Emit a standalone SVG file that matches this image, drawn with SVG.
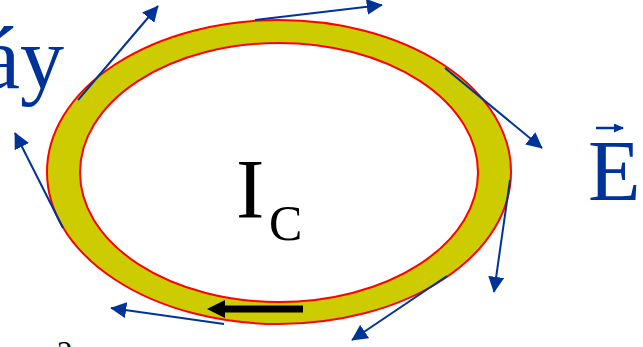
<svg xmlns="http://www.w3.org/2000/svg" width="643" height="347" viewBox="0 0 643 347">
<style>
.bl{stroke:#003399;stroke-width:2;fill:none}
.tx{font-family:"Liberation Serif","Times New Roman",serif}
</style>
<defs>
<marker id="ah" viewBox="0 0 10 10" refX="9" refY="5" markerWidth="10" markerHeight="9" markerUnits="userSpaceOnUse" orient="auto" preserveAspectRatio="none">
<path d="M0,0 L10,5 L0,10 z" fill="#003399"/>
</marker>
<marker id="ab" viewBox="0 0 10 10" refX="9.5" refY="5" markerWidth="16" markerHeight="16" markerUnits="userSpaceOnUse" orient="auto">
<path d="M0,0 L10,5 L0,10 z" fill="#003399"/>
</marker>
</defs>
<rect width="643" height="347" fill="#fff"/>
<g id="ring">
<path d="M47,172 A232,152 0 1,0 511,172 A232,152 0 1,0 47,172 Z M80,172.5 A199,129.5 0 1,1 478,172.5 A199,129.5 0 1,1 80,172.5 Z" fill="#CCCC00" fill-rule="evenodd" stroke="#FF0000" stroke-width="2"/>
</g>
<g id="current-arrow">
<line x1="303" y1="309" x2="222" y2="309" stroke="#000" stroke-width="7"/>
<path d="M207,309 L225,300 L225,318 Z" fill="#000"/>
</g>
<g id="connectors">
<line class="bl" x1="78" y1="100" x2="158" y2="6" marker-end="url(#ab)"/>
<line class="bl" x1="255" y1="20" x2="382" y2="5" marker-end="url(#ab)"/>
<line class="bl" x1="445" y1="68" x2="542" y2="148" marker-end="url(#ab)"/>
<line class="bl" x1="510" y1="180" x2="494" y2="292" marker-end="url(#ab)"/>
<line class="bl" x1="447" y1="276" x2="352" y2="340" marker-end="url(#ab)"/>
<line class="bl" x1="224" y1="324" x2="111" y2="308" marker-end="url(#ab)"/>
<line class="bl" x1="63" y1="228" x2="15" y2="133" marker-end="url(#ab)"/>
</g>
<g id="label-ic">
<text class="tx" x="236" y="218" font-size="85" fill="#000">I</text>
<text class="tx" x="269" y="240" font-size="50" fill="#000">C</text>
</g>
<g id="label-ay">
<text class="tx" x="-19" y="88" font-size="88" fill="#003399">áy</text>
</g>
<g id="label-e">
<text class="tx" x="588" y="200" font-size="86" fill="#003399">E</text>
<line x1="596" y1="128" x2="623" y2="128" stroke="#003399" stroke-width="2.5" marker-end="url(#ah)"/>
</g>
<g id="bottom-text">
<text class="tx" x="57" y="363" font-size="31" fill="#000">2</text>
</g>
</svg>
